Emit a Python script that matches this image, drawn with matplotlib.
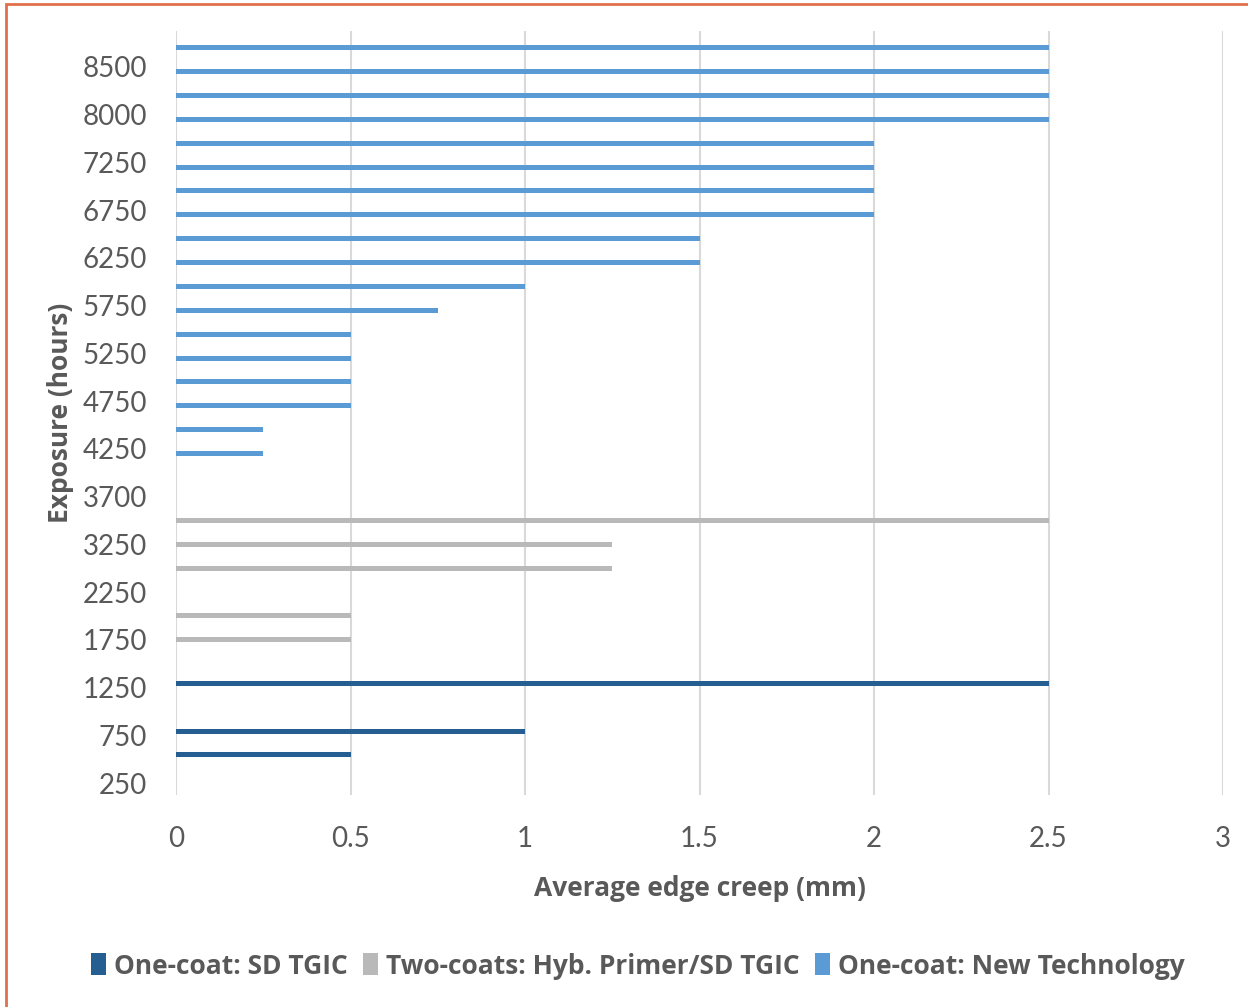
import matplotlib
matplotlib.use("Agg")
import matplotlib.pyplot as plt
from matplotlib.patches import Rectangle
import numpy as np

# --- data ---
exposure_hours = [250, 500, 750, 1000, 1250, 1500, 1750, 2000, 2250, 2750,
                  3250, 3500, 3700, 4000, 4250, 4500, 4750, 5000, 5250, 5500,
                  5750, 6000, 6250, 6500, 6750, 7000, 7250, 7500, 8000, 8250,
                  8500, 8750]

# average edge creep (mm), 0 where a series has no reading
one_coat_sd_tgic = [0, 0.5, 1.0, 0, 2.5] + [0] * 27
two_coats_hyb = [0] * 6 + [0.5, 0.5, 0, 1.25, 1.25, 2.5] + [0] * 20
one_coat_new_tech = [0] * 14 + [0.25, 0.25, 0.5, 0.5, 0.5, 0.5, 0.75, 1.0,
                                1.5, 1.5, 2.0, 2.0, 2.0, 2.0, 2.5, 2.5, 2.5, 2.5]

series_names = ["One-coat: SD TGIC", "Two-coats: Hyb. Primer/SD TGIC",
                "One-coat: New Technology"]
colors = ["#255E91", "#B9B9B9", "#5B9BD5"]

plt.rcParams['font.family'] = ['Lato', 'DejaVu Sans']
text_col = "#595959"
bold_font = ['Open Sans', 'DejaVu Sans']

fig = plt.figure(figsize=(12.48, 10.07), dpi=100)
ax = fig.add_axes([176 / 1248, 212 / 1007, (1223 - 176) / 1248, (795 - 31) / 1007])

pos = np.arange(len(exposure_hours))
offsets = [0.18, 0.0, -0.2]
all_series = [one_coat_sd_tgic, two_coats_hyb, one_coat_new_tech]
for vals, off, col, name in zip(all_series, offsets, colors, series_names):
    v = np.array(vals, dtype=float)
    mask = v > 0
    ax.barh(pos[mask] + off, v[mask], height=0.21, color=col, label=name)

ax.set_xlim(0, 3)
ax.set_ylim(-0.5, len(exposure_hours) - 0.5)
ax.set_xticks(np.arange(0, 3.01, 0.5))
ax.set_xticklabels(["0", "0.5", "1", "1.5", "2", "2.5", "3"])
ax.set_yticks(pos[::2])
ax.set_yticklabels([str(h) for h in exposure_hours[::2]])

ax.grid(axis='x', color="#D9D9D9", linewidth=1.5)
ax.set_axisbelow(True)
for s in ax.spines.values():
    s.set_visible(False)
ax.tick_params(length=0, labelsize=20, colors=text_col)
ax.tick_params(axis='y', pad=21)
ax.tick_params(axis='x', pad=22)

ax.set_xlabel("Average edge creep (mm)", fontsize=19, fontweight='bold',
              family=bold_font, color=text_col, labelpad=17)
ax.set_ylabel("Exposure (hours)", fontsize=19, fontweight='bold',
              family=bold_font, color=text_col, labelpad=6)

leg = fig.legend(loc='center', bbox_to_anchor=(638 / 1248, 1 - 966 / 1007),
                 ncol=3, frameon=False, handlelength=0.55,
                 handleheight=0.9, handletextpad=0.3, columnspacing=0.6,
                 prop={'family': bold_font, 'weight': 'bold', 'size': 19})
for t in leg.get_texts():
    t.set_color(text_col)

# orange outline round the chart area
fig.patches.append(Rectangle((5.5 / 1248, -0.05), 1.2, 1 - 4 / 1007 + 0.05,
                             transform=fig.transFigure, fill=False,
                             edgecolor="#E0704C", linewidth=2))

fig.savefig("out.png", dpi=100)
